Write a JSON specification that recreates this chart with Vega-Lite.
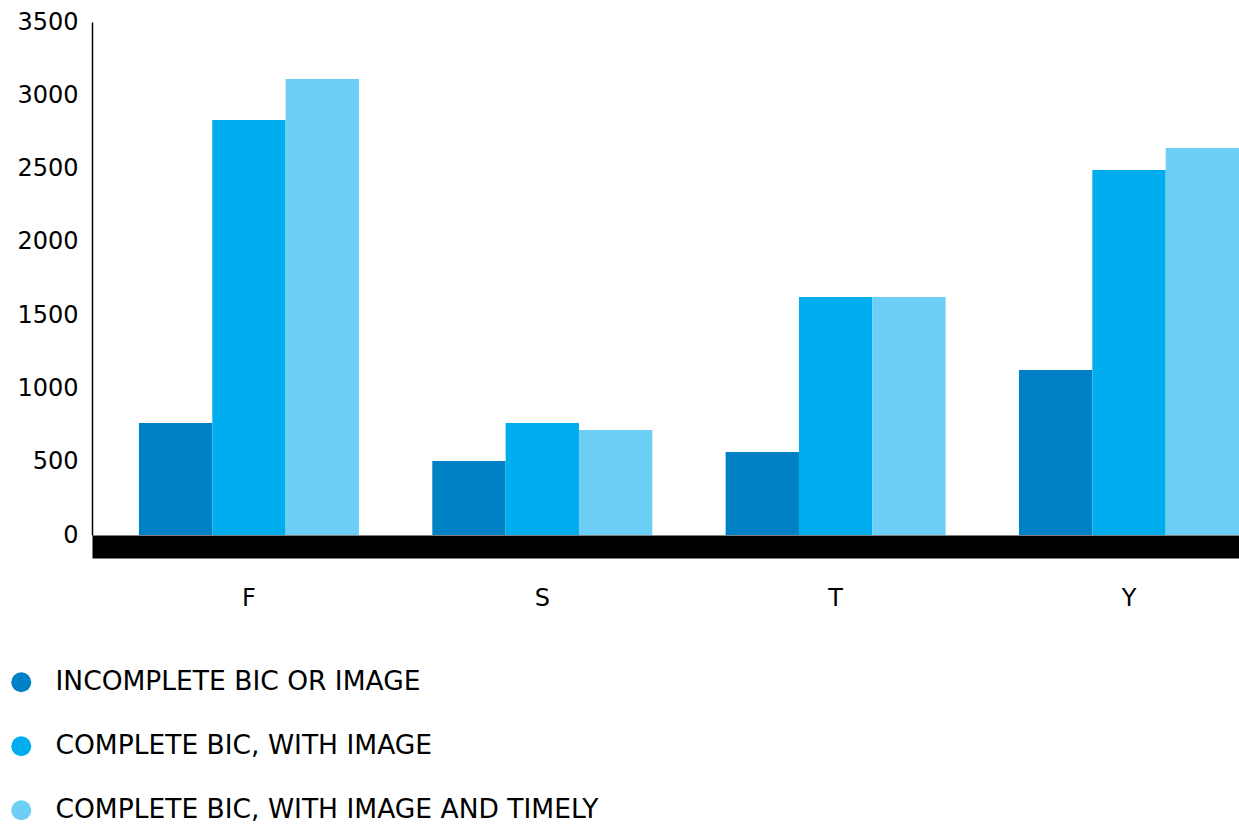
{
  "$schema": "https://vega.github.io/schema/vega-lite/v6.json",
  "width": 1147,
  "height": 513,
  "autosize": {"type": "none"},
  "padding": {"left": 92, "top": 22, "right": 0, "bottom": 291},
  "config": {"view": {"stroke": null}, "font": "DejaVu Sans"},
  "data": {
    "values": [
      {"group": "F", "series": "INCOMPLETE BIC OR IMAGE", "value": 764},
      {"group": "F", "series": "COMPLETE BIC, WITH IMAGE", "value": 2832},
      {"group": "F", "series": "COMPLETE BIC, WITH IMAGE AND TIMELY", "value": 3111},
      {"group": "S", "series": "INCOMPLETE BIC OR IMAGE", "value": 505},
      {"group": "S", "series": "COMPLETE BIC, WITH IMAGE", "value": 764},
      {"group": "S", "series": "COMPLETE BIC, WITH IMAGE AND TIMELY", "value": 716},
      {"group": "T", "series": "INCOMPLETE BIC OR IMAGE", "value": 566},
      {"group": "T", "series": "COMPLETE BIC, WITH IMAGE", "value": 1624},
      {"group": "T", "series": "COMPLETE BIC, WITH IMAGE AND TIMELY", "value": 1624},
      {"group": "Y", "series": "INCOMPLETE BIC OR IMAGE", "value": 1126},
      {"group": "Y", "series": "COMPLETE BIC, WITH IMAGE", "value": 2490},
      {"group": "Y", "series": "COMPLETE BIC, WITH IMAGE AND TIMELY", "value": 2640}
    ]
  },
  "mark": {"type": "bar"},
  "encoding": {
    "x": {
      "field": "group",
      "type": "nominal",
      "sort": ["F", "S", "T", "Y"],
      "scale": {"paddingInner": 0.25, "paddingOuter": 0.08, "align": 1},
      "axis": {
        "title": null,
        "labelAngle": 0,
        "domainWidth": 23,
        "domainColor": "#000000",
        "offset": 11.5,
        "ticks": false,
        "tickSize": 0,
        "labelPadding": 40,
        "labelFontSize": 24,
        "labelColor": "#000000",
        "labelBaseline": "top"
      }
    },
    "xOffset": {
      "field": "series",
      "type": "nominal",
      "sort": ["INCOMPLETE BIC OR IMAGE", "COMPLETE BIC, WITH IMAGE", "COMPLETE BIC, WITH IMAGE AND TIMELY"],
      "scale": {"paddingInner": 0, "paddingOuter": 0}
    },
    "y": {
      "field": "value",
      "type": "quantitative",
      "scale": {"domain": [0, 3500], "nice": false},
      "axis": {
        "title": null,
        "values": [0, 500, 1000, 1500, 2000, 2500, 3000, 3500],
        "format": "d",
        "grid": false,
        "ticks": false,
        "tickSize": 0,
        "domainColor": "#000000",
        "domainWidth": 1.5,
        "labelPadding": 14,
        "labelFontSize": 24,
        "labelColor": "#000000"
      }
    },
    "color": {
      "field": "series",
      "type": "nominal",
      "sort": ["INCOMPLETE BIC OR IMAGE", "COMPLETE BIC, WITH IMAGE", "COMPLETE BIC, WITH IMAGE AND TIMELY"],
      "scale": {
        "domain": ["INCOMPLETE BIC OR IMAGE", "COMPLETE BIC, WITH IMAGE", "COMPLETE BIC, WITH IMAGE AND TIMELY"],
        "range": ["#0081C5", "#00AEEF", "#6DCFF6"]
      },
      "legend": {
        "title": null,
        "orient": "none",
        "legendX": -84,
        "legendY": 647,
        "direction": "vertical",
        "symbolType": "circle",
        "symbolSize": 400,
        "symbolStrokeWidth": 0,
        "symbolOpacity": 1,
        "labelFontSize": 26.5,
        "labelColor": "#000000",
        "labelOffset": 21,
        "labelLimit": 1000,
        "rowPadding": 37
      }
    }
  }
}
